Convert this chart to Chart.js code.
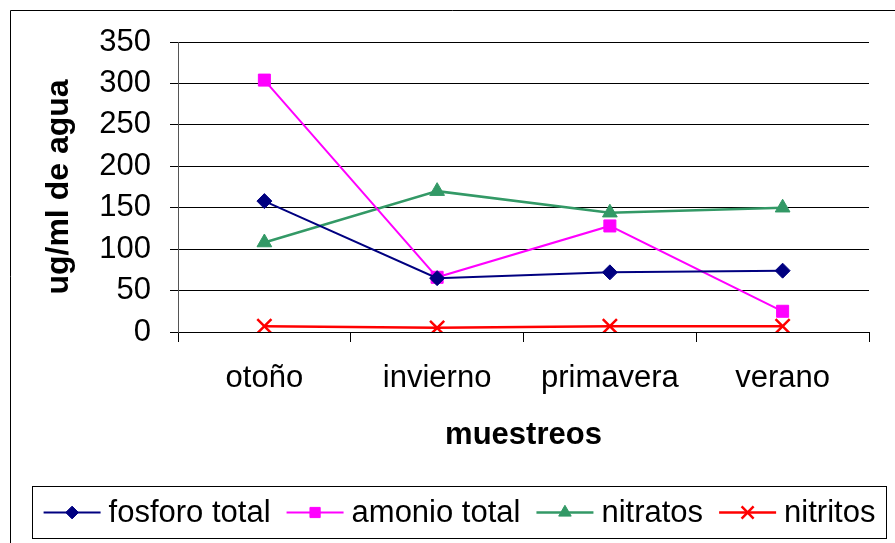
<!DOCTYPE html>
<html>
<head>
<meta charset="utf-8">
<script src="https://cdn.jsdelivr.net/npm/chart.js@4/dist/chart.umd.min.js"></script>
<style>
  html, body { margin: 0; padding: 0; background: #ffffff; }
  #wrap { width: 895px; height: 543px; position: relative; }
</style>
</head>
<body>
<div id="wrap"><canvas id="c" width="895" height="543"></canvas></div>
<script>
// Sampling seasons and measured concentrations (ug/ml de agua)
const categories = ['otoño', 'invierno', 'primavera', 'verano'];
const fosforoTotal = [158, 65, 72, 74];
const amonioTotal = [304, 66, 128, 25];
const nitratos = [108, 170, 144, 150];
const nitritos = [7, 5, 7, 7];

// Value axis range and tick step
const yMin = 0;
const yMax = 350;
const yStep = 50;

const seriesNames = ['fosforo total', 'amonio total', 'nitratos', 'nitritos'];

const FONT = '"Liberation Sans", Arial, Helvetica, sans-serif';
Chart.defaults.font.family = FONT;
Chart.defaults.color = '#000000';

// Frame around the whole chart (open at the right and bottom edges of the page)
const framePlugin = {
  id: 'frame',
  afterDraw(chart) {
    const ctx = chart.ctx;
    ctx.save();
    ctx.strokeStyle = '#000000';
    ctx.lineWidth = 1;
    ctx.beginPath();
    ctx.moveTo(10.5, 543);
    ctx.lineTo(10.5, 10.5);
    ctx.lineTo(895, 10.5);
    ctx.stroke();
    ctx.restore();
  }
};

// Boxed legend with a short line and the marker of each series
const boxLegendPlugin = {
  id: 'boxLegend',
  afterDraw(chart) {
    const ctx = chart.ctx;
    const box = { x: 32.5, y: 486.5, w: 854, h: 52 };
    const lineLen = 57, gapText = 8, gapItem = 16;
    ctx.save();
    ctx.strokeStyle = '#000000';
    ctx.lineWidth = 1;
    ctx.strokeRect(box.x, box.y, box.w, box.h);
    ctx.font = '31px ' + FONT;
    ctx.textBaseline = 'middle';
    ctx.textAlign = 'left';
    const items = chart.data.datasets.map(ds => ({ ds, tw: ctx.measureText(ds.label).width }));
    let total = 0;
    items.forEach((it, i) => { total += lineLen + gapText + it.tw + (i < items.length - 1 ? gapItem : 0); });
    let x = box.x + (box.w - total) / 2;
    const cy = box.y + box.h / 2;
    items.forEach(it => {
      const ds = it.ds;
      ctx.strokeStyle = ds.borderColor;
      ctx.lineWidth = ds.borderWidth;
      ctx.beginPath();
      ctx.moveTo(x, cy);
      ctx.lineTo(x + lineLen, cy);
      ctx.stroke();
      ctx.fillStyle = ds.pointBackgroundColor;
      ctx.strokeStyle = ds.pointBorderColor;
      ctx.lineWidth = ds.pointBorderWidth;
      Chart.helpers.drawPoint(ctx, {
        pointStyle: ds.pointStyle,
        radius: ds.pointRadius * 0.85,
        borderWidth: ds.pointBorderWidth,
        rotation: 0
      }, x + lineLen / 2, cy);
      ctx.fillStyle = '#000000';
      ctx.fillText(ds.label, x + lineLen + gapText, cy + 1);
      x += lineLen + gapText + it.tw + gapItem;
    });
    ctx.restore();
  }
};

function series(label, data, color, style, radius, width, pointWidth) {
  return {
    label, data,
    borderColor: color,
    backgroundColor: color,
    borderWidth: width,
    pointStyle: style,
    pointRadius: radius,
    pointHoverRadius: radius,
    pointBackgroundColor: color,
    pointBorderColor: color,
    pointBorderWidth: pointWidth,
    tension: 0,
    fill: false
  };
}

new Chart(document.getElementById('c'), {
  type: 'line',
  data: {
    labels: categories,
    datasets: [
      series(seriesNames[0], fosforoTotal, '#000080', 'rectRot', 7.5, 2, 1),
      series(seriesNames[1], amonioTotal, '#FF00FF', 'rect', 8.5, 2, 1),
      series(seriesNames[2], nitratos, '#339966', 'triangle', 8.5, 2.5, 1),
      series(seriesNames[3], nitritos, '#FF0000', 'crossRot', 10, 2.5, 2.5)
    ]
  },
  options: {
    responsive: false,
    animation: false,
    devicePixelRatio: 1,
    layout: { padding: { left: 0, top: 42, right: 26, bottom: 89 } },
    plugins: {
      legend: { display: false },
      tooltip: { enabled: false }
    },
    scales: {
      x: {
        type: 'category',
        offset: true,
        grid: {
          display: true,
          drawOnChartArea: false,
          drawTicks: true,
          offset: true,
          tickLength: 10,
          color: '#000000',
          tickColor: '#000000'
        },
        border: { display: true, color: '#000000', width: 1 },
        ticks: {
          font: { size: 31 },
          color: '#000000',
          padding: 18,
          maxRotation: 0,
          autoSkip: false
        },
        title: {
          display: true,
          text: 'muestreos',
          font: { size: 31, weight: 'bold' },
          color: '#000000',
          padding: { top: 0, bottom: 0 }
        },
        afterFit(scale) { scale.height = 122; }
      },
      y: {
        min: yMin,
        max: yMax,
        grid: {
          color: '#000000',
          lineWidth: 1,
          drawTicks: true,
          tickLength: 8,
          tickColor: '#000000'
        },
        border: { display: true, color: '#555555', width: 1 },
        ticks: {
          stepSize: yStep,
          font: { size: 31 },
          color: '#000000',
          padding: 19
        },
        title: {
          display: true,
          text: 'ug/ml de agua',
          font: { size: 32, weight: 'bold' },
          color: '#000000',
          padding: { top: 40, bottom: 0 }
        },
        afterFit(scale) { scale.width = 178; }
      }
    }
  },
  plugins: [framePlugin, boxLegendPlugin]
});
</script>
</body>
</html>
